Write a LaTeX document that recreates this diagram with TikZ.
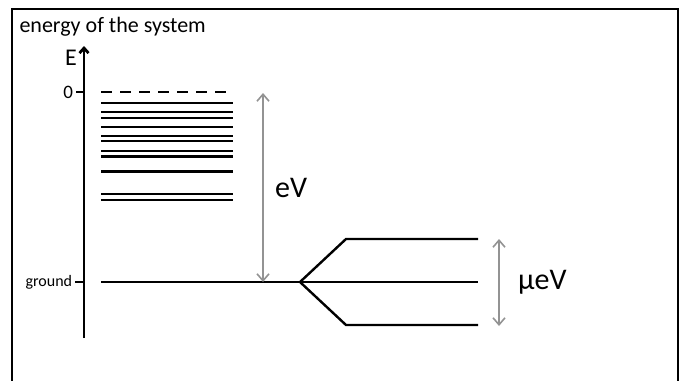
\documentclass[tikz,border=0pt]{standalone}
\usepackage{fontspec}
\setmainfont{Carlito}
\usetikzlibrary{arrows.meta,positioning}

\tikzset{
  level/.style={line width=2.4pt},
  gap/.style={gray!85,line width=1.6pt,<->},
  tick/.style={line width=1.8pt},
  lbl/.style={text=black,font=\fontsize{#1}{#1}\selectfont},
}

\begin{document}
\begin{tikzpicture}[x=1pt,y=-1pt,>={Straight Barb[length=7pt,width=12pt]}]
    \useasboundingbox (0,0) rectangle (685,380);
    \clip (0,0) rectangle (685,380);

    % Outer frame, runs off the bottom.
    \draw[line width=2.4pt] (12,395) -- (12,9) -- (678,9) -- (678,395);
    \node[anchor=west,lbl=22] (title) at (16,27) {energy of the system};

    % Energy axis.
    \coordinate (axbot) at (84,338);
    \coordinate (axtop) at (84,46);
    \draw[->,line width=2.8pt,>={Straight Barb[length=5pt,width=9pt]}] (axbot) -- (axtop);
    \node[lbl=24] (E) at (71,58) {E};

    % Ticks on the axis.
    \coordinate (zero) at (84,92);
    \coordinate (gnd) at (84,282);
    \draw[tick] (zero) -- ++(-8,0) node[left,inner sep=2pt,lbl=19] (zerolbl) {0};
    \draw[tick] (gnd) -- ++(-9,0) node[left,inner sep=2pt,lbl=16] (gndlbl) {ground};

    % Excited levels below zero.
    \draw[level,dash pattern=on 11pt off 8pt] (101,92) -- (233,92);
    \foreach \y in {103,112,118,127,136,141,151,156.5,171.5,194,200}
        \draw[level] (101,\y) -- (233,\y);

    % Ground level and its splitting.
    \coordinate (g0) at (101,282);
    \coordinate (split) at (300,282);
    \coordinate (up) at (346,239);
    \coordinate (down) at (346,325);
    \coordinate (upend) at (478,239);
    \coordinate (midend) at (478,282);
    \coordinate (downend) at (478,325);
    \draw[level] (g0) -- (split) -- (midend);
    \draw[level,line join=miter] (upend) -- (up) -- (split) -- (down) -- (downend);

    % Scales of the two gaps.
    \coordinate (eVbot) at (263,282);
    \coordinate (eVtop) at (263,93);
    \draw[gap] (eVbot) -- (eVtop) node[midway,right=8pt,lbl=30] (eV) {eV};
    \coordinate (ueVtop) at (499,239);
    \coordinate (ueVbot) at (499,326);
    \draw[gap] (ueVtop) -- (ueVbot) node[midway,right=15pt,lbl=30] (ueV) {µeV};

\end{tikzpicture}
\end{document}
